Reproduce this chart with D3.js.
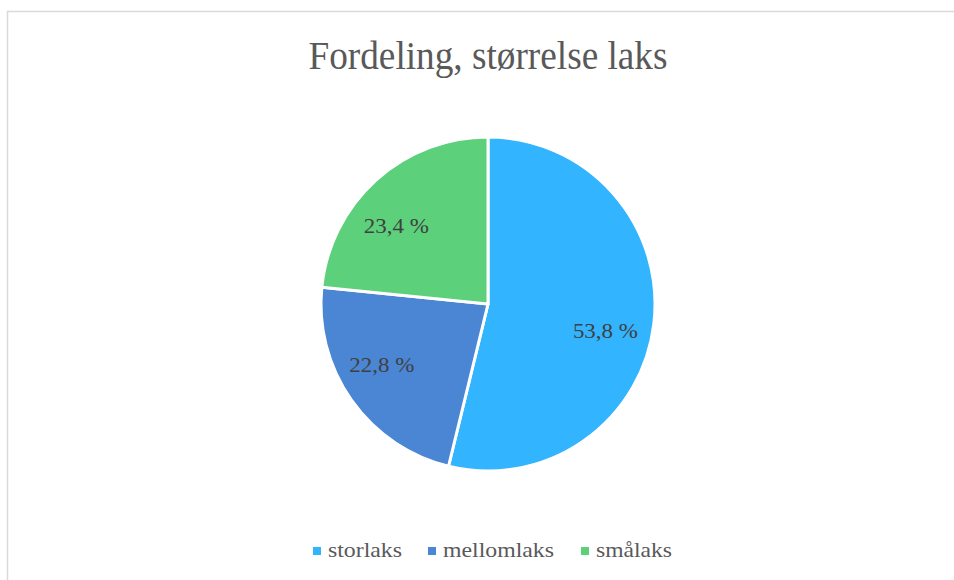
<!DOCTYPE html>
<html>
<head>
<meta charset="utf-8">
<script src="https://cdn.jsdelivr.net/npm/d3@7"></script>
<style>
  body { margin: 0; background: #fff; }
</style>
</head>
<body>
<svg id="chart"></svg>
<script>
// chart data
const categories = ["storlaks", "mellomlaks", "smålaks"];
const shares = [53.8, 22.8, 23.4];
const labels = ["53,8 %", "22,8 %", "23,4 %"];
const colors = ["#33b4ff", "#4a86d4", "#5cd07a"];

const width = 954, height = 580;
const cx = 488, cy = 304, radius = 167;
const serif = "'Liberation Serif', 'DejaVu Serif', 'Times New Roman', Times, serif";

const svg = d3.select("#chart")
  .attr("width", width)
  .attr("height", height)
  .style("font-family", serif);

// frame (right and bottom edges fall outside the view)
svg.append("rect")
  .attr("x", 7.5)
  .attr("y", 11.5)
  .attr("width", 1000)
  .attr("height", 1000)
  .attr("fill", "none")
  .attr("stroke", "#d9d9d9")
  .attr("stroke-width", 1.5);

// title
svg.append("text")
  .attr("x", cx)
  .attr("y", 69)
  .attr("text-anchor", "middle")
  .attr("font-family", serif)
  .attr("font-size", 40)
  .attr("fill", "#595959")
  .attr("textLength", 359)
  .attr("lengthAdjust", "spacingAndGlyphs")
  .text("Fordeling, størrelse laks");

const data = categories.map((c, i) => ({ name: c, value: shares[i], label: labels[i], color: colors[i] }));

const pie = d3.pie().sort(null).value(d => d.value);
const arc = d3.arc().innerRadius(0).outerRadius(radius);
const labelArc = d3.arc().innerRadius(radius * 0.72).outerRadius(radius * 0.72);
// small manual nudges so labels sit where the original placed them
const nudge = { storlaks: [-2, 12], mellomlaks: [-8, -9], "smålaks": [-11, 11] };

const g = svg.append("g").attr("transform", `translate(${cx},${cy})`);

const arcs = pie(data);

g.selectAll("path.slice")
  .data(arcs)
  .join("path")
  .attr("class", "slice")
  .attr("d", arc)
  .attr("fill", d => d.data.color)
  .attr("stroke", "#fff")
  .attr("stroke-width", 3)
  .attr("stroke-linejoin", "round");

g.selectAll("text.pct")
  .data(arcs)
  .join("text")
  .attr("class", "pct")
  .attr("transform", d => {
    const [x, y] = labelArc.centroid(d);
    const [nx, ny] = nudge[d.data.name];
    return `translate(${x + nx},${y + ny})`;
  })
  .attr("text-anchor", "middle")
  .attr("dy", "0.35em")
  .attr("font-family", serif)
  .attr("font-size", 21)
  .attr("fill", "#404040")
  .attr("textLength", 65)
  .attr("lengthAdjust", "spacingAndGlyphs")
  .text(d => d.data.label);

// legend
const legendX = [313, 428, 581];
const legendTextW = [74, 111, 76];
const legend = svg.append("g").attr("class", "legend");
data.forEach((d, i) => {
  legend.append("rect")
    .attr("x", legendX[i])
    .attr("y", 547)
    .attr("width", 8)
    .attr("height", 8)
    .attr("fill", d.color);
  legend.append("text")
    .attr("x", legendX[i] + 15)
    .attr("y", 557)
    .attr("font-family", serif)
    .attr("font-size", 21)
    .attr("fill", "#595959")
    .attr("textLength", legendTextW[i])
    .attr("lengthAdjust", "spacingAndGlyphs")
    .text(d.name);
});
</script>
</body>
</html>
